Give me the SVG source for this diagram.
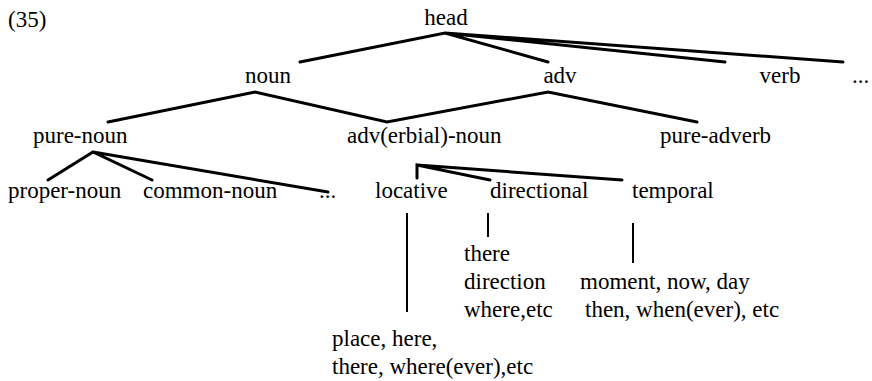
<svg xmlns="http://www.w3.org/2000/svg" width="872" height="381" viewBox="0 0 872 381">
<style>
text{font-family:"Liberation Serif","Times New Roman",serif;font-size:23px;fill:#000}
.e{stroke:#000;stroke-width:3;fill:none;stroke-linecap:round}
.v{stroke:#000;stroke-width:2;fill:none}
</style>
<rect width="872" height="381" fill="#fff"/>
<text x="8" y="27">(35)</text>
<g id="connectors">
<path class="e" d="M300,62 L445,33 L548,62 M445,33 L725,62 M445,33 L843,62"/>
<path class="e" d="M108,122 L255,92 L387,122 L548,92 L697,122"/>
<path class="e" d="M48,180 L93,152 L152,180 M93,152 L328,192"/>
<path class="e" d="M417,178 L417,165 L490,180 M417,165 L622,180"/>
<path class="v" d="M407,213 V312 M488,213 V237 M633,223 V263"/>
</g>
<g id="head"><text x="446" y="25" text-anchor="middle">head</text></g>
<g id="noun"><text x="268" y="83" text-anchor="middle">noun</text></g>
<g id="adv"><text x="560" y="83" text-anchor="middle">adv</text></g>
<g id="verb"><text x="780" y="83" text-anchor="middle">verb</text></g>
<g id="dots1"><text x="852" y="83">...</text></g>
<g id="pure-noun"><text x="33" y="143">pure-noun</text></g>
<g id="advnoun"><text x="347" y="143">adv(erbial)-noun</text></g>
<g id="pure-adverb"><text x="660" y="143">pure-adverb</text></g>
<g id="proper-noun"><text x="8" y="198">proper-noun</text></g>
<g id="common-noun"><text x="143" y="198">common-noun</text></g>
<g id="dots2"><text x="319" y="198">...</text></g>
<g id="locative"><text x="375" y="198">locative</text></g>
<g id="directional"><text x="490" y="198">directional</text></g>
<g id="temporal"><text x="632" y="198">temporal</text></g>
<g id="dir-list"><text x="464" y="261">there</text><text x="464" y="289">direction</text><text x="464" y="317">where,etc</text></g>
<g id="temp-list"><text x="580" y="289">moment, now, day</text><text x="585" y="317">then, when(ever), etc</text></g>
<g id="loc-list"><text x="332" y="346">place, here,</text><text x="332" y="374">there, where(ever),etc</text></g>
</svg>
